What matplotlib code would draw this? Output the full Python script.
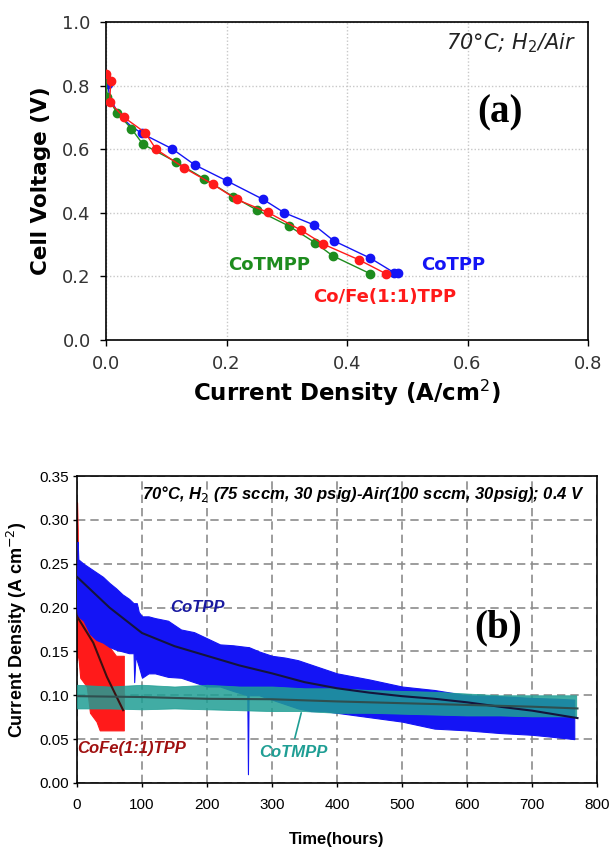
import matplotlib
matplotlib.use("Agg")
import matplotlib.pyplot as plt

# ---------------- Panel (a) data ----------------
cotpp_x = [0.000, 0.003, 0.006, 0.020, 0.040, 0.059, 0.110, 0.147, 0.201, 0.261, 0.296, 0.345, 0.378, 0.439, 0.478, 0.485]
cotpp_y = [0.820, 0.805, 0.765, 0.712, 0.675, 0.650, 0.601, 0.551, 0.500, 0.442, 0.400, 0.362, 0.312, 0.257, 0.212, 0.212]

cofe_x = [0.000, 0.008, 0.006, 0.030, 0.065, 0.083, 0.130, 0.177, 0.217, 0.269, 0.324, 0.360, 0.420, 0.465]
cofe_y = [0.838, 0.815, 0.748, 0.700, 0.652, 0.600, 0.541, 0.490, 0.442, 0.401, 0.345, 0.302, 0.252, 0.208]

cotmpp_x = [0.000, 0.002, 0.018, 0.042, 0.061, 0.116, 0.163, 0.211, 0.250, 0.304, 0.347, 0.376, 0.439]
cotmpp_y = [0.825, 0.765, 0.715, 0.665, 0.616, 0.560, 0.507, 0.451, 0.409, 0.358, 0.306, 0.265, 0.208]

a_xticks = [0.0, 0.2, 0.4, 0.6, 0.8]
a_yticks = [0.0, 0.2, 0.4, 0.6, 0.8, 1.0]

# ---------------- Panel (b) data ----------------
b_cotpp_t = [0, 1, 2, 10, 20, 30, 40, 50, 60, 70, 80, 87, 88, 90, 92, 95, 100, 110, 120, 140,
             160, 180, 200, 220, 240, 262, 263, 264, 280, 300, 320, 340, 360, 380, 400, 450,
             500, 550, 600, 650, 700, 740, 765]
b_cotpp_hi = [0.23, 0.275, 0.255, 0.25, 0.245, 0.24, 0.235, 0.228, 0.222, 0.215, 0.21, 0.205,
              0.205, 0.205, 0.205, 0.195, 0.19, 0.19, 0.188, 0.185, 0.175, 0.172, 0.165, 0.158,
              0.157, 0.155, 0.155, 0.155, 0.15, 0.145, 0.143, 0.14, 0.135, 0.13, 0.125, 0.118,
              0.11, 0.106, 0.10, 0.099, 0.097, 0.096, 0.095]
b_cotpp_lo = [0.20, 0.19, 0.19, 0.185, 0.17, 0.163, 0.16, 0.155, 0.152, 0.15, 0.148, 0.148,
              0.115, 0.145, 0.14, 0.133, 0.12, 0.125, 0.125, 0.121, 0.12, 0.115, 0.11, 0.11,
              0.105, 0.10, 0.01, 0.10, 0.10, 0.095, 0.09, 0.085, 0.082, 0.082, 0.08, 0.075,
              0.07, 0.062, 0.06, 0.057, 0.055, 0.052, 0.05]

b_cofe_t = [0, 1, 2, 5, 10, 15, 20, 25, 30, 35, 40, 45, 50, 55, 60, 65, 70, 72]
b_cofe_hi = [0.32, 0.29, 0.21, 0.21, 0.205, 0.20, 0.195, 0.19, 0.185, 0.17, 0.165, 0.16,
             0.155, 0.15, 0.145, 0.145, 0.145, 0.145]
b_cofe_lo = [0.14, 0.15, 0.145, 0.12, 0.115, 0.11, 0.08, 0.075, 0.07, 0.06, 0.06, 0.06,
             0.06, 0.06, 0.06, 0.06, 0.06, 0.06]

b_cotmpp_t = [0, 50, 100, 150, 200, 250, 300, 350, 400, 450, 500, 550, 600, 650, 700, 740, 768]
b_cotmpp_hi = [0.112, 0.11, 0.112, 0.11, 0.112, 0.11, 0.11, 0.108, 0.108, 0.106, 0.105, 0.104,
               0.102, 0.10, 0.10, 0.10, 0.10]
b_cotmpp_lo = [0.085, 0.085, 0.084, 0.085, 0.084, 0.083, 0.082, 0.082, 0.08, 0.08, 0.079, 0.078,
               0.077, 0.077, 0.076, 0.076, 0.076]

fit_cotpp_t = [0, 50, 100, 150, 200, 250, 300, 350, 400, 450, 500, 550, 600, 650, 700, 770]
fit_cotpp_v = [0.235, 0.200, 0.171, 0.156, 0.145, 0.134, 0.125, 0.115, 0.108, 0.103, 0.099,
               0.096, 0.092, 0.087, 0.0825, 0.074]
fit_cofe_t = [0, 25, 46, 71]
fit_cofe_v = [0.190, 0.160, 0.121, 0.083]
fit_cotmpp_t = [0, 100, 200, 300, 400, 500, 600, 700, 770]
fit_cotmpp_v = [0.099, 0.098, 0.096, 0.0955, 0.093, 0.091, 0.089, 0.087, 0.085]

b_xticks = [0, 100, 200, 300, 400, 500, 600, 700, 800]
b_yticks = [0.00, 0.05, 0.10, 0.15, 0.20, 0.25, 0.30, 0.35]

BLUE = "#1414f5"
RED = "#ff1a1a"
GREEN = "#1e8c1e"
TEAL = "#1f9e94"

fig = plt.figure(figsize=(6.1, 8.48), dpi=100)

# ---------------- Panel (a) ----------------
ax1 = fig.add_axes([106/610, 1-340/848, 482/610, 318/848])
ax1.set_xlim(0, 0.8)
ax1.set_ylim(0, 1.0)
ax1.set_xticks(a_xticks)
ax1.set_yticks(a_yticks)
ax1.set_xticklabels([f"{v:.1f}" for v in a_xticks])
ax1.set_yticklabels([f"{v:.1f}" for v in a_yticks])
ax1.grid(True, color="#c8c8c8", linestyle=(0, (1, 1.5)), linewidth=1.0)
ax1.set_axisbelow(True)
ax1.tick_params(direction="out", length=4, width=1, pad=7, labelsize=13)
for lab in ax1.get_xticklabels() + ax1.get_yticklabels():
    lab.set_family("DejaVu Sans")
    lab.set_color("#333333")
for s in ax1.spines.values():
    s.set_linewidth(1.2)

ax1.plot(cotpp_x, cotpp_y, "-", color=BLUE, lw=1.0, zorder=3)
ax1.plot(cotpp_x[:2] + cotpp_x[5:], cotpp_y[:2] + cotpp_y[5:], "o", color=BLUE, ms=6, zorder=3)
ax1.plot(cotmpp_x, cotmpp_y, "-o", color=GREEN, lw=1.0, ms=6, mec=GREEN, zorder=4)
ax1.plot(cofe_x, cofe_y, "-o", color=RED, lw=1.0, ms=6, mec=RED, zorder=5)

ax1.set_xlabel("Current Density (A/cm$^2$)", fontsize=16.5, fontweight="bold",
               family="DejaVu Sans", labelpad=3)
ax1.set_ylabel("Cell Voltage (V)", fontsize=15.5, fontweight="bold",
               family="DejaVu Sans", labelpad=8)

ax1.text(0.27, 0.236, "CoTMPP", color=GREEN, fontsize=13, fontweight="bold",
         family="DejaVu Sans", ha="center", va="center")
ax1.text(0.576, 0.236, "CoTPP", color=BLUE, fontsize=13, fontweight="bold",
         family="DejaVu Sans", ha="center", va="center")
ax1.text(0.463, 0.135, "Co/Fe(1:1)TPP", color=RED, fontsize=13, fontweight="bold",
         family="DejaVu Sans", ha="center", va="center")
ax1.text(0.78, 0.934, "70°C; H$_2$/Air", fontsize=15, style="italic",
         family="DejaVu Sans", ha="right", va="center", color="#222222")
ax1.text(0.654, 0.714, "(a)", fontsize=28, fontweight="bold",
         family="Liberation Serif", ha="center", va="center")

# ---------------- Panel (b) ----------------
ax2 = fig.add_axes([77/610, 1-783/848, 520/610, 307/848])
ax2.set_xlim(0, 800)
ax2.set_ylim(0, 0.35)
ax2.set_xticks(b_xticks)
ax2.set_yticks(b_yticks)
ax2.set_yticklabels([f"{v:.2f}" for v in b_yticks])
ax2.grid(True, color="#8c8c8c", linestyle=(0, (5, 3)), linewidth=1.2)
ax2.set_axisbelow(True)
ax2.tick_params(direction="out", length=3, width=1, pad=3, labelsize=11)
ax2.tick_params(axis="x", pad=8)
for lab in ax2.get_xticklabels() + ax2.get_yticklabels():
    lab.set_family("Liberation Sans")
for s in ax2.spines.values():
    s.set_linewidth(1.2)

ax2.fill_between(b_cofe_t, b_cofe_lo, b_cofe_hi, color=RED, lw=0.8, edgecolor=RED, zorder=2)
ax2.fill_between(b_cotpp_t, b_cotpp_lo, b_cotpp_hi, color=BLUE, lw=0.8, edgecolor=BLUE, zorder=3)
ax2.fill_between(b_cotmpp_t, b_cotmpp_lo, b_cotmpp_hi, color=TEAL, lw=0.6, edgecolor=TEAL,
                 alpha=0.85, zorder=4)

ax2.plot(fit_cotpp_t, fit_cotpp_v, color="#14143c", lw=1.5, zorder=6)
ax2.plot(fit_cofe_t, fit_cofe_v, color="#3c1010", lw=1.5, zorder=6)
ax2.plot(fit_cotmpp_t, fit_cotmpp_v, color="#2f4f4f", lw=1.5, zorder=6)

ax2.set_xlabel("Time(hours)", fontsize=12, fontweight="bold", family="Liberation Sans",
               labelpad=14)
ax2.set_ylabel("Current Density (A cm$^{-2}$)", fontsize=13, fontweight="bold",
               family="Liberation Sans", labelpad=7)

ax2.text(185, 0.200, "CoTPP", color="#1a1aa0", fontsize=12, style="italic",
         fontweight="bold", family="Liberation Sans", ha="center", va="center")
ax2.text(84, 0.039, "CoFe(1:1)TPP", color="#a01010", fontsize=12, style="italic",
         fontweight="bold", family="Liberation Sans", ha="center", va="center")
ax2.text(333, 0.035, "CoTMPP", color=TEAL, fontsize=12, style="italic",
         fontweight="bold", family="Liberation Sans", ha="center", va="center")
ax2.annotate("", xy=(346, 0.083), xytext=(334, 0.048),
             arrowprops=dict(arrowstyle="-", color=TEAL, lw=1.2))
ax2.text(441, 0.330, "70°C, H$_2$ (75 sccm, 30 psig)-Air(100 sccm, 30psig); 0.4 V",
         fontsize=12, style="italic", fontweight="bold", family="Liberation Sans",
         ha="center", va="center")
ax2.text(648, 0.177, "(b)", fontsize=28, fontweight="bold",
         family="Liberation Serif", ha="center", va="center")

fig.savefig("out.png", dpi=100)
